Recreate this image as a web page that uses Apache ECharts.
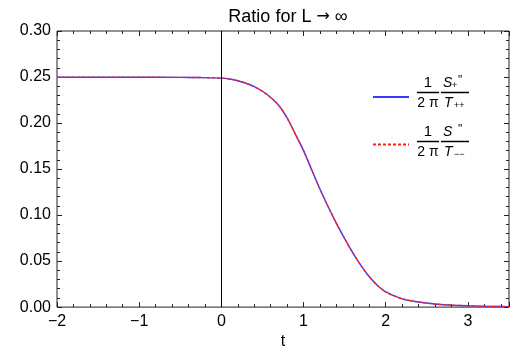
<!DOCTYPE html>
<html>
<head>
<meta charset="utf-8">
<script src="https://cdn.jsdelivr.net/npm/echarts@6/dist/echarts.min.js"></script>
<style>
  html, body { margin: 0; padding: 0; background: #fff; }
  #chart { width: 518px; height: 355px; }
</style>
</head>
<body>
<div id="chart"></div>
<script>
// t values and ratio
const tValues = [-2, -1.5, -1, -0.5, -0.25, 0, 0.1, 0.2, 0.3, 0.4, 0.5, 0.6, 0.7, 0.8, 0.9, 1.0,
  1.1, 1.2, 1.3, 1.4, 1.5, 1.6, 1.7, 1.8, 1.9, 2.0, 2.2, 2.4, 2.6, 2.8, 3.0, 3.25, 3.5]
const ratioPlus = [0.2497, 0.2497, 0.2497, 0.2496, 0.2494, 0.2488, 0.2478, 0.246, 0.2432, 0.2395, 0.2345, 0.2278, 0.219, 0.2055, 0.188, 0.17,
  0.149, 0.128, 0.109, 0.091, 0.0745, 0.059, 0.045, 0.033, 0.0235, 0.0165, 0.009, 0.0055, 0.0033, 0.0022, 0.0014, 0.0008, 0.0005]
const ratioMinus = ratioPlus.slice()
const seriesNames = ['plus', 'minus']
const xName = 't'

const FONT = 'Liberation Sans'
const frame = '#222'

const toPairs = (xs, ys) => xs.map((x, i) => [x, ys[i]])

// fresh objects for every axis; the frame itself is the grid border
const axisBase = (extra) => Object.assign({
  type: 'value',
  axisLine: { show: false, onZero: false },
  axisTick: { show: true, inside: true, length: 5, lineStyle: { color: frame } },
  minorTick: { show: true, splitNumber: 5, length: 3, lineStyle: { color: frame } },
  splitLine: { show: false },
}, extra)

// fraction labels drawn next to legend icons
const fraction = (cy, sub1, sub2) => {
  const t = (x, y, s, size, style, align) => ({
    type: 'text', x: x, y: y,
    style: { text: s, fontFamily: FONT, fontSize: size, fontStyle: style || 'normal',
      fill: '#000', align: align || 'center', verticalAlign: 'middle' }
  })
  const bar = (x1, x2) => ({
    type: 'line', shape: { x1: x1, y1: cy + 0.5, x2: x2, y2: cy + 0.5 },
    style: { stroke: '#000', lineWidth: 1.5 }
  })
  return [
    bar(417, 439), bar(441, 469),
    t(428, cy - 9, '1', 15),
    t(428, cy + 11, '2 \u03c0', 14),
    t(443, cy - 9, 'S', 14, 'italic', 'left'),
    t(452, cy - 6, sub1, 9, 'normal', 'left'),
    t(458, cy - 11, '"', 12, 'normal', 'left'),
    t(444, cy + 11, 'T', 14, 'italic', 'left'),
    t(454, cy + 14, sub2, 9, 'normal', 'left'),
  ]
}

const option = {
  animation: false,
  backgroundColor: '#fff',
  title: {
    text: '{a|Ratio for L }{b|\u2192}{a| \u221e}', left: 283, top: 3, textAlign: 'center',
    textStyle: {
      fontWeight: 'normal',
      rich: {
        a: { fontFamily: FONT, fontSize: 18, fontWeight: 'normal', color: '#000' },
        b: { fontFamily: 'DejaVu Sans', fontSize: 16, fontWeight: 'normal', color: '#000' }
      }
    }
  },
  grid: { left: 57, right: 9, top: 31, bottom: 44, show: true, borderColor: frame, borderWidth: 1,
    backgroundColor: 'transparent' },
  legend: {
    orient: 'vertical', left: 367, top: 85, itemWidth: 36, itemHeight: 14, itemGap: 35,
    data: seriesNames, formatter: () => '', selectedMode: false,
    itemStyle: { opacity: 0 }
  },
  xAxis: [
    axisBase({
      position: 'bottom', min: -2, max: 3.5, interval: 1,
      name: xName, nameLocation: 'middle', nameGap: 22,
      nameTextStyle: { fontFamily: FONT, fontSize: 16, color: '#000' },
      axisLabel: { fontFamily: FONT, fontSize: 16, color: '#000', margin: 6, showMaxLabel: false,
        formatter: v => (v < 0 ? '\u2212' + Math.abs(v) : String(v)) }
    }),
    axisBase({ position: 'top', min: -2, max: 3.5, interval: 1, axisLabel: { show: false } })
  ],
  yAxis: [
    axisBase({
      position: 'left', min: 0, max: 0.3, interval: 0.05,
      axisLabel: { fontFamily: FONT, fontSize: 16, color: '#000', margin: 6,
        formatter: v => v.toFixed(2) }
    }),
    axisBase({ position: 'right', min: 0, max: 0.3, interval: 0.05, axisLabel: { show: false } })
  ],
  series: [
    {
      name: seriesNames[0], type: 'line', data: toPairs(tValues, ratioPlus),
      showSymbol: false, symbol: 'none', smooth: 0.3,
      lineStyle: { color: '#3a3aff', width: 1.4 }, itemStyle: { color: '#3a3aff' },
      markLine: {
        silent: true, symbol: 'none', label: { show: false },
        lineStyle: { color: '#000', width: 1, type: 'solid' },
        data: [{ xAxis: 0 }]
      }
    },
    {
      name: seriesNames[1], type: 'line', data: toPairs(tValues, ratioMinus),
      showSymbol: false, symbol: 'none', smooth: 0.3,
      lineStyle: { color: '#ff2020', width: 1.4, type: [3, 2] }, itemStyle: { color: '#ff2020' }
    }
  ],
  graphic: fraction(92, '+', '++').concat(fraction(141, ' ', '\u2212\u2212'))
}

const chart = echarts.init(document.getElementById('chart'), null, { renderer: 'canvas' })
chart.setOption(option)
</script>
</body>
</html>
